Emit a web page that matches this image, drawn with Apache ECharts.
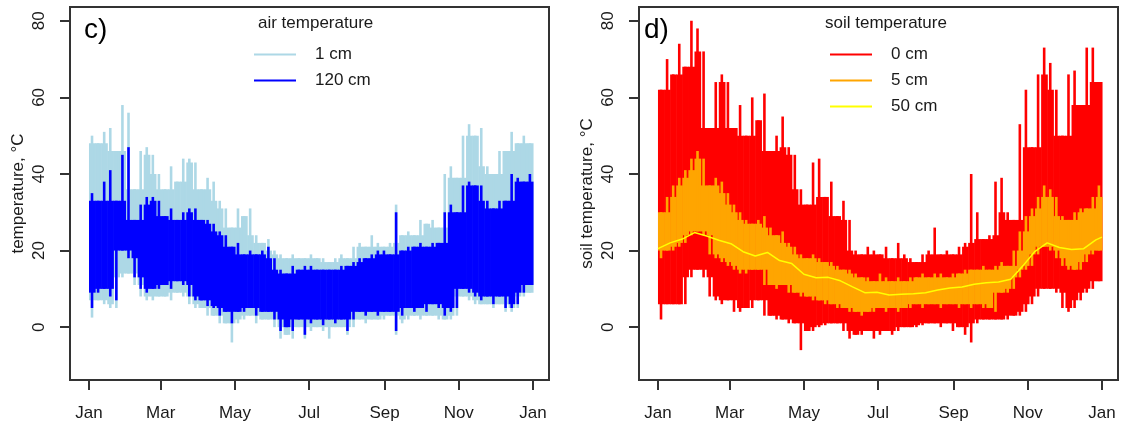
<!DOCTYPE html>
<html>
<head>
<meta charset="utf-8">
<script src="https://cdn.jsdelivr.net/npm/echarts@6/dist/echarts.min.js"></script>
<style>
  html, body { margin: 0; padding: 0; background: #fff; }
  #chart { width: 1121px; height: 429px; }
</style>
</head>
<body>
<div id="chart"></div>
<script>
// x axis: day of year, ticks every two months
var monthDays = [0, 59, 120, 181, 243, 304, 365];
var monthNames = ["Jan", "Mar", "May", "Jul", "Sep", "Nov", "Jan"];
var yTicks = [0, 20, 40, 60, 80];
var STEP = 5; // each value covers 5 days (max / min over that span)

// c) air temperature, 1 cm (lightblue) and 120 cm (blue)
var air1Hi = [50, 48, 51, 52, 46, 58, 56, 36, 46, 47, 45, 40, 36, 42, 38, 44, 44, 43, 36, 39,
  38, 33, 31, 26, 31, 29, 31, 24, 22, 23, 20, 19, 18, 19, 18, 18, 19, 18, 18, 17,
  18, 19, 18, 21, 22, 21, 24, 22, 21, 22, 32, 24, 25, 24, 28, 27, 28, 26, 40, 42,
  39, 50, 53, 50, 52, 42, 40, 46, 46, 51, 48, 50, 48];
var air1Lo = [2.5, 7, 6, 5, 5, 13, 14, 11, 8, 7, 7, 8, 8, 7, 9, 8, 6, 5, 5, 3,
  3, 1, 1, -4, 1, 2, 3, 1, 2, 2, 0, -3, -2, -3, 0, -3, -1, 0, -1, -3,
  0, 0, -2, 0, 2, 1, 2, 2, 2, 3, -2, 1, 2, 3, 2, 3, 3, 2, 2, 2,
  3, 8, 7, 6, 6, 6, 5, 6, 4, 4, 5, 8, 9];
var air120Hi = [35, 33, 38, 41, 33, 45, 47, 28, 32, 34, 34, 33, 29, 31, 28, 30, 31, 31, 28, 28,
  27, 25, 24, 21, 22, 19, 20, 19, 20, 21, 18, 15, 14, 16, 15, 16, 16, 15, 15, 15,
  15, 16, 16, 17, 18, 18, 19, 20, 20, 19, 30, 20, 21, 21, 22, 21, 22, 22, 30, 32,
  30, 37, 38, 37, 37, 33, 31, 33, 33, 40, 39, 38, 40];
var air120Lo = [5, 9, 10, 8, 7, 20, 18, 13, 10, 9, 10, 10, 11, 10, 12, 11, 8, 7, 7, 5.5,
  5, 3, 4, 1, 4, 4, 5, 3, 4, 4, 2, -1, 0, -1, 2, -2, 1, 2, 0.5, 2,
  1, 2, -1, 2, 4, 3, 4, 3, 4, 4, -1, 3, 5, 4, 5, 4, 6, 5, 3, 4,
  5, 10, 9, 8, 7, 8, 6, 8, 5, 5, 6, 9, 11];

// d) soil temperature, 0 cm (red), 5 cm (orange), 50 cm (yellow)
var soil0Hi = [62, 70, 66, 74, 68, 80, 78, 72, 52, 64, 66, 64, 52, 58, 50, 60, 54, 61, 46, 50,
  55, 47, 45, 36, 32, 43, 44, 34, 38, 29, 33, 28, 20, 19, 21, 20, 19, 21, 18, 22,
  19, 18, 17, 19, 20, 26, 19, 20, 19, 21, 22, 40, 30, 23, 24, 38, 39, 30, 28, 53,
  62, 47, 66, 73, 69, 62, 50, 66, 67, 58, 73, 73, 64];
var soil0Lo = [2, 6, 6, 6, 6, 13, 15, 13, 8, 7, 6, 7, 4, 4, 5, 5, 7, 3, 3, 2,
  2, 1, 1, -6, -1, -1, 0, 0.5, 1, 1, -1, -3, -2, -2, -1, -3, -2, -1, -2, -1,
  0, 0, 0, 0.5, 1, 1, 0, 1, -1, 0, -2, -4, 1, 2, 2, 2, 2, 2, 3, 3,
  4, 6, 8, 10, 10, 9, 5, 4, 5, 7, 9, 10, 12];
var soil5Hi = [30, 34, 37, 39, 41, 44, 46, 44, 37, 39, 38, 35, 32, 30, 28, 27, 28, 29, 26, 24,
  25, 22, 21, 19, 18, 19, 18, 17, 17, 16, 15, 15, 14, 13, 13, 12, 14, 13, 12, 13,
  12, 13, 13, 14, 13, 14, 14, 13, 14, 14, 15, 15, 15, 16, 15, 16, 17, 16, 20, 25,
  29, 31, 34, 37, 36, 34, 29, 28, 30, 31, 31, 34, 37];
var soil5Lo = [18, 20, 20, 21, 22, 24, 25, 24, 19, 18, 17, 16, 15, 14, 14, 15, 15, 11, 11, 10,
  11, 9, 9, 8, 8, 7, 7, 6, 6, 5, 5, 4, 4, 3, 4, 4, 5, 4, 5, 4,
  5, 5, 6, 5, 6, 6, 5, 6, 6, 5, 6, 5, 6, 5, 5, 4, 9, 9, 10, 13,
  15, 16, 19, 21, 20, 18, 16, 15, 15, 15, 17, 19, 20];
var soil50Days = [0, 10, 20, 30, 40, 50, 60, 70, 80, 90, 100, 110, 120, 130, 140, 150, 160, 170, 180, 190,
  200, 210, 220, 230, 240, 250, 260, 270, 280, 290, 300, 310, 320, 330, 340, 350, 360, 365];
var soil50 = [20.5, 22, 23, 24.7, 23.8, 22.7, 21.8, 19.7, 18.6, 19.5, 17.4, 16.6, 13.8, 12.9, 13, 12.1, 10.5, 9, 9.1, 8.4,
  8.6, 8.7, 9, 9.7, 10.2, 10.5, 11.2, 11.6, 11.8, 12.5, 16, 19.8, 22, 20.8, 20.3, 20.5, 22.8, 23.5];

var FONT = "Liberation Sans";
var TXT = "#1a1a1a";
var FS = 17;

// one column per span: solid where the neighbours also reach, a thin spike beyond
function bandSeries(name, color, lo, hi, idx) {
  var data = [];
  for (var i = 0; i < lo.length; i++) {
    data.push([STEP * i + STEP / 2, lo[i], hi[i]]);
  }
  return {
    name: name,
    type: "custom",
    xAxisIndex: idx,
    yAxisIndex: idx,
    itemStyle: { color: color },
    encode: { x: 0, y: [1, 2] },
    data: data,
    renderItem: function (params, api) {
      var i = params.dataIndex;
      var n = lo.length;
      var d = api.value(0);
      var h = hi[i], l = lo[i];
      var top = Math.min(h, hi[Math.max(i - 1, 0)], hi[Math.min(i + 1, n - 1)]);
      var bot = Math.max(l, lo[Math.max(i - 1, 0)], lo[Math.min(i + 1, n - 1)]);
      var fill = api.visual("color");
      var kids = [];
      var a = api.coord([d - STEP / 2, top]);
      var b = api.coord([d + STEP / 2, bot]);
      if (b[1] > a[1]) {
        kids.push({ type: "rect", shape: { x: a[0], y: a[1], width: b[0] - a[0] + 0.6, height: b[1] - a[1] }, style: { fill: fill } });
      }
      var c = api.coord([d, h]);
      var e = api.coord([d, l]);
      kids.push({ type: "rect", shape: { x: c[0] - 1.3, y: c[1], width: 2.6, height: e[1] - c[1] }, style: { fill: fill } });
      return { type: "group", children: kids };
    }
  };
}

function xAxisFor(idx) {
  return {
    type: "value",
    gridIndex: idx,
    min: -15.6,
    max: 378.2,
    axisLine: { show: false, onZero: false },
    splitLine: { show: false },
    axisTick: { show: true, length: 10, customValues: monthDays, lineStyle: { color: "#333", width: 2 } },
    axisLabel: {
      customValues: monthDays,
      margin: 25,
      fontSize: FS,
      fontFamily: FONT,
      color: TXT,
      formatter: function (v) {
        return monthNames[monthDays.indexOf(v)];
      }
    }
  };
}

function yAxisFor(idx, name) {
  return {
    type: "value",
    gridIndex: idx,
    min: -13.8,
    max: 83.6,
    name: name,
    nameLocation: "middle",
    nameRotate: 90,
    nameGap: 43,
    nameTextStyle: { fontSize: FS, fontFamily: FONT, color: TXT },
    axisLine: { show: false, onZero: false },
    splitLine: { show: false },
    axisTick: { show: true, length: 10, customValues: yTicks, lineStyle: { color: "#333", width: 2 } },
    axisLabel: { customValues: yTicks, rotate: 90, margin: 22, fontSize: FS, fontFamily: FONT, color: TXT }
  };
}

var chart = echarts.init(document.getElementById("chart"), null, { renderer: "canvas" });

var legendBase = {
  orient: "vertical",
  top: 46,
  padding: 0,
  itemGap: 9,
  itemWidth: 42,
  itemHeight: 2,
  icon: "rect",
  textStyle: { fontSize: FS, fontFamily: FONT, color: TXT, padding: [0, 0, 0, 14] }
};

var option = {
  animation: false,
  backgroundColor: "#fff",
  title: [
    { text: "c)", left: 84, top: 16, padding: 0, textStyle: { fontSize: 28, fontWeight: "normal", fontFamily: FONT, color: "#000" } },
    { text: "air temperature", left: 258, top: 15, padding: 0, textStyle: { fontSize: FS, fontWeight: "normal", fontFamily: FONT, color: TXT } },
    { text: "d)", left: 644, top: 16, padding: 0, textStyle: { fontSize: 28, fontWeight: "normal", fontFamily: FONT, color: "#000" } },
    { text: "soil temperature", left: 825, top: 15, padding: 0, textStyle: { fontSize: FS, fontWeight: "normal", fontFamily: FONT, color: TXT } }
  ],
  legend: [
    Object.assign({}, legendBase, { data: ["1 cm", "120 cm"], left: 254 }),
    Object.assign({}, legendBase, { data: ["0 cm", "5 cm", "50 cm"], left: 830 })
  ],
  grid: [
    { left: 70, top: 7, width: 479, height: 373, show: true, borderColor: "#333", borderWidth: 2, backgroundColor: "transparent" },
    { left: 639, top: 7, width: 479, height: 373, show: true, borderColor: "#333", borderWidth: 2, backgroundColor: "transparent" }
  ],
  xAxis: [xAxisFor(0), xAxisFor(1)],
  yAxis: [yAxisFor(0, "temperature, °C"), yAxisFor(1, "soil temperature, °C")],
  series: [
    bandSeries("1 cm", "#ADD8E6", air1Lo, air1Hi, 0),
    bandSeries("120 cm", "#0000FF", air120Lo, air120Hi, 0),
    bandSeries("0 cm", "#FF0000", soil0Lo, soil0Hi, 1),
    bandSeries("5 cm", "#FFA500", soil5Lo, soil5Hi, 1),
    {
      name: "50 cm", type: "line", xAxisIndex: 1, yAxisIndex: 1,
      showSymbol: false,
      itemStyle: { color: "#FFFF00" },
      lineStyle: { color: "#FFFF00", width: 1.5 },
      data: soil50Days.map(function (d, i) { return [d, soil50[i]]; })
    }
  ]
};

chart.setOption(option);
</script>
</body>
</html>
